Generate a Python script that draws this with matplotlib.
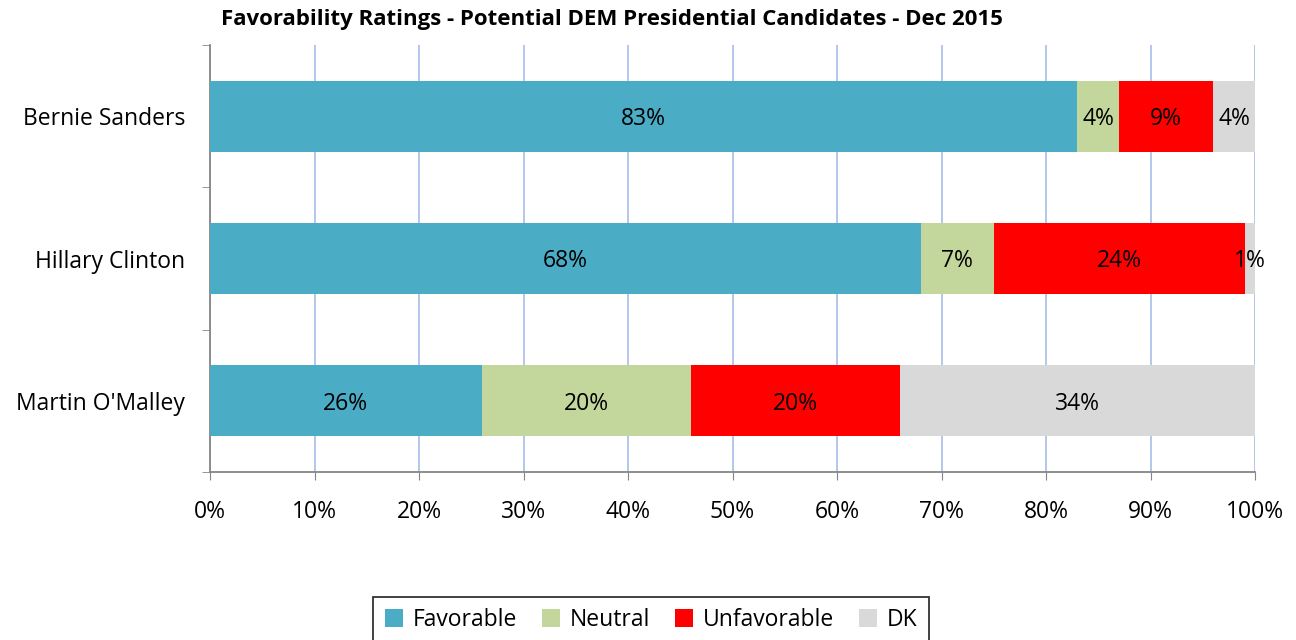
import matplotlib.pyplot as plt
import numpy as np

plt.rcParams['font.family'] = ['Open Sans', 'DejaVu Sans']

candidates = ["Martin O'Malley", "Hillary Clinton", "Bernie Sanders"]
series = ['Favorable', 'Neutral', 'Unfavorable', 'DK']
favorable = [26, 68, 83]
neutral = [20, 7, 4]
unfavorable = [20, 24, 9]
dk = [34, 1, 4]
colors = ['#4bacc6', '#c3d69b', '#ff0000', '#d9d9d9']
xticks = np.arange(0, 101, 10)

fig = plt.figure(figsize=(12.96, 6.4), dpi=100)
ax = fig.add_axes([210 / 1296, 1 - 472 / 640, 1045 / 1296, 427 / 640])

y = np.arange(len(candidates))
left = np.zeros(len(candidates))
for name, vals, col in zip(series, [favorable, neutral, unfavorable, dk], colors):
    vals = np.array(vals, dtype=float)
    ax.barh(y, vals, left=left, height=0.5, color=col, label=name, zorder=3)
    for yi, l, v in zip(y, left, vals):
        ax.text(l + v / 2, yi - 0.02, f'{int(v)}%', ha='center', va='center',
                fontsize=16.5, color='black', zorder=4)
    left += vals

ax.set_xlim(0, 100)
ax.set_ylim(-0.5, 2.5)
ax.set_xticks(xticks)
ax.set_xticklabels([f'{t}%' for t in xticks], fontsize=16.5)
ax.set_yticks(y)
ax.set_yticklabels(candidates, fontsize=16.5)
ax.set_yticks([-0.5, 0.5, 1.5, 2.5], minor=True)
ax.tick_params(axis='y', which='major', length=0, pad=18)
ax.tick_params(axis='y', which='minor', length=6, color='#868686', direction='out')
ax.tick_params(axis='x', length=6, color='#868686', direction='out', pad=14)
ax.grid(axis='x', color='#aec3ea', linewidth=1.3, zorder=0)

for s in ['top', 'right']:
    ax.spines[s].set_visible(False)
for s in ['left', 'bottom']:
    ax.spines[s].set_color('#868686')
    ax.spines[s].set_linewidth(1.3)

fig.text(612 / 1296, 1 - 20 / 640, 'Favorability Ratings - Potential DEM Presidential Candidates - Dec 2015',
         ha='center', va='center', fontsize=16, fontweight='bold')

leg = fig.legend(loc='center', bbox_to_anchor=(651 / 1296, 1 - 620 / 640), ncol=4,
                 fontsize=16.5, frameon=True, fancybox=False, edgecolor='black',
                 handlelength=0.8, handleheight=0.8, columnspacing=1.1, handletextpad=0.4,
                 borderpad=0.5)
leg.get_frame().set_linewidth(1.3)

fig.savefig('out.png', dpi=100)
